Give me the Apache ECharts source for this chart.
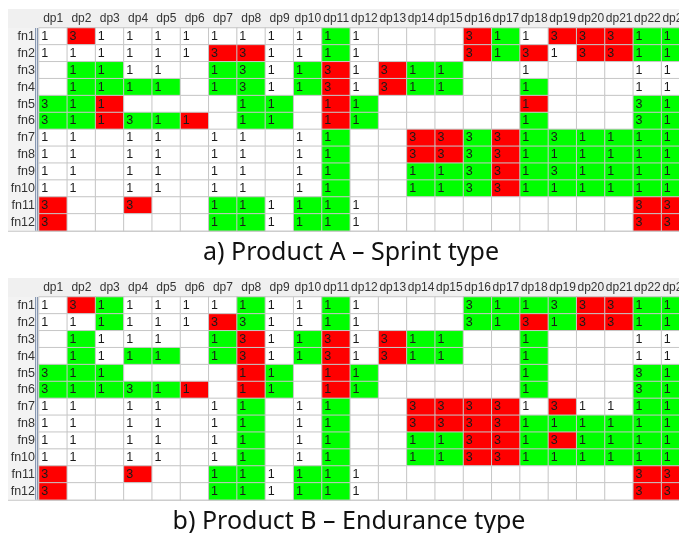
<!DOCTYPE html>
<html>
<head>
<meta charset="utf-8">
<script src="https://cdn.jsdelivr.net/npm/echarts@6/dist/echarts.min.js"></script>
<style>
  html, body { margin: 0; padding: 0; background: #fff; }
  #chart { width: 679px; height: 533px; }
</style>
</head>
<body>
<div id="chart"></div>
<script>
// columns and rows of both tables
const dpLabels = ['dp1','dp2','dp3','dp4','dp5','dp6','dp7','dp8','dp9','dp10','dp11','dp12',
  'dp13','dp14','dp15','dp16','dp17','dp18','dp19','dp20','dp21','dp22','dp23']
const fnLabels = ['fn1','fn2','fn3','fn4','fn5','fn6','fn7','fn8','fn9','fn10','fn11','fn12']

// one char per cell: value ('.' = empty)
const valuesA = [
  '131111111111...31133311',
  '111111331111...31313311',
  '.1111.131131311..1...11',
  '.1111.131131311..1...11',
  '311....11.11.....1...31',
  '311311.11.11.....1...31',
  '11.11.11.11..3333131111',
  '11.11.11.11..3333111111',
  '11.11.11.11..1133131111',
  '11.11.11.11..1133111111',
  '3..3..111111.........33',
  '3.....111111.........33'
]
// one char per cell: w = white, g = green, r = red
const coloursA = [
  'wrwwwwwwwwgwwwwrgwrrrgg',
  'wwwwwwrrwwgwwwwrgrwrrgg',
  'wggwwwggwgrwrggwwwwwwww',
  'wggggwggwgrwrggwwgwwwww',
  'ggrwwwwggwrgwwwwwrwwwgg',
  'ggrggrwggwrgwwwwwgwwwgg',
  'wwwwwwwwwwgwwrrgrgggggg',
  'wwwwwwwwwwgwwrrgrgggggg',
  'wwwwwwwwwwgwwgggrgggggg',
  'wwwwwwwwwwgwwgggrgggggg',
  'rwwrwwggwggwwwwwwwwwwrr',
  'rwwwwwggwggwwwwwwwwwwrr'
]

const valuesB = [
  '131111111111...31133311',
  '111111331111...31313311',
  '.1111.131131311..1...11',
  '.1111.131131311..1...11',
  '311....11.11.....1...31',
  '311311.11.11.....1...31',
  '11.11.11.11..3333131111',
  '11.11.11.11..3333111111',
  '11.11.11.11..1133131111',
  '11.11.11.11..1133111111',
  '3..3..111111.........33',
  '3.....111111.........33'
]
const coloursB = [
  'wrgwwwwgwwgwwwwggggrrgg',
  'wwgwwwrgwwgwwwwggrgrrgg',
  'wgwwwwgrwgrwrggwwgwwwww',
  'wgwggwgrwgrwrggwwgwwwww',
  'gggwwwwrgwrgwwwwwgwwwgg',
  'gggggrwrgwrgwwwwwgwwwgg',
  'wwwwwwwgwwgwwrrrrwrwwgg',
  'wwwwwwwgwwgwwrrrrgggggg',
  'wwwwwwwgwwgwwggrrgrgggg',
  'wwwwwwwgwwgwwggrrgggggg',
  'rwwrwwggwggwwwwwwwwwwrr',
  'rwwwwwggwggwwwwwwwwwwrr'
]

const titleA = 'a) Product A \u2013 Sprint type'
const titleB = 'b) Product B \u2013 Endurance type'

// layout
const LEFT = 39, CELL_W = 28.3, CELL_H = 16.9
const TOP_A = 28, TOP_B = 297
const GRID_W = CELL_W * dpLabels.length, GRID_H = CELL_H * fnLabels.length
const COLOUR_CODE = { w: 0, g: 1, r: 2 }

function cells(values, colours) {
  var data = []
  values.forEach((row, r) => {
    for (var c = 0; c < dpLabels.length; c++) {
      var v = row[c]
      data.push([c, r, v === '.' ? 0 : +v, COLOUR_CODE[colours[r][c]]])
    }
  })
  return data
}

function xAxisFor(gridIndex) {
  return {
    type: 'category', gridIndex, position: 'top', data: dpLabels,
    axisLine: { show: false }, axisTick: { show: false },
    axisLabel: { interval: 0, margin: 3, fontSize: 12, color: '#333', fontFamily: 'Liberation Sans' }
  }
}

function yAxisFor(gridIndex) {
  return {
    type: 'category', gridIndex, inverse: true, data: fnLabels,
    axisLine: { show: false }, axisTick: { show: false },
    axisLabel: { interval: 0, margin: 4, fontSize: 12.5, color: '#333', fontFamily: 'Liberation Sans' }
  }
}

function heatmapFor(index, data) {
  return {
    type: 'heatmap', xAxisIndex: index, yAxisIndex: index, data,
    itemStyle: { borderColor: '#c6c6c6', borderWidth: 1 },
    emphasis: { disabled: true },
    label: {
      show: true, position: 'insideLeft', distance: 3,
      fontSize: 12.5, fontFamily: 'Liberation Sans', color: '#1a1a1a',
      formatter: p => p.value[2] ? String(p.value[2]) : ''
    }
  }
}

function tableFrame(top) {
  return [
    { type: 'rect', shape: { x: 8, y: top - 19, width: 679, height: 19 }, style: { fill: '#f0f0f0' } },
    { type: 'rect', shape: { x: 8, y: top, width: 28, height: GRID_H }, style: { fill: '#f3f3f3' } },
    { type: 'rect', shape: { x: 35, y: top, width: 3, height: GRID_H }, style: { fill: '#8797b0' } },
    { type: 'rect', shape: { x: 36, y: top, width: 1, height: GRID_H }, style: { fill: '#dde3ec' } },
    { type: 'rect', shape: { x: 8, y: top + GRID_H, width: 679, height: 1 }, style: { fill: '#c6c6c6' } }
  ]
}

var chart = echarts.init(document.getElementById('chart'))

chart.setOption({
  animation: false,
  backgroundColor: '#ffffff',
  title: [
    { text: titleA, left: 346, textAlign: 'center', top: 233,
      textStyle: { fontSize: 25, lineHeight: 30, fontWeight: 'normal', color: '#111', fontFamily: 'Noto Sans' } },
    { text: titleB, left: 344, textAlign: 'center', top: 502,
      textStyle: { fontSize: 25, lineHeight: 30, fontWeight: 'normal', color: '#111', fontFamily: 'Noto Sans' } }
  ],
  graphic: tableFrame(TOP_A).concat(tableFrame(TOP_B)),
  grid: [
    { left: LEFT, top: TOP_A, width: GRID_W, height: GRID_H, outerBoundsMode: 'none' },
    { left: LEFT, top: TOP_B, width: GRID_W, height: GRID_H, outerBoundsMode: 'none' }
  ],
  xAxis: [xAxisFor(0), xAxisFor(1)],
  yAxis: [yAxisFor(0), yAxisFor(1)],
  visualMap: {
    type: 'piecewise', show: false, dimension: 3,
    pieces: [
      { value: 0, color: '#ffffff' },
      { value: 1, color: '#00ff00' },
      { value: 2, color: '#ff0000' }
    ]
  },
  series: [
    heatmapFor(0, cells(valuesA, coloursA)),
    heatmapFor(1, cells(valuesB, coloursB))
  ]
})
</script>
</body>
</html>
